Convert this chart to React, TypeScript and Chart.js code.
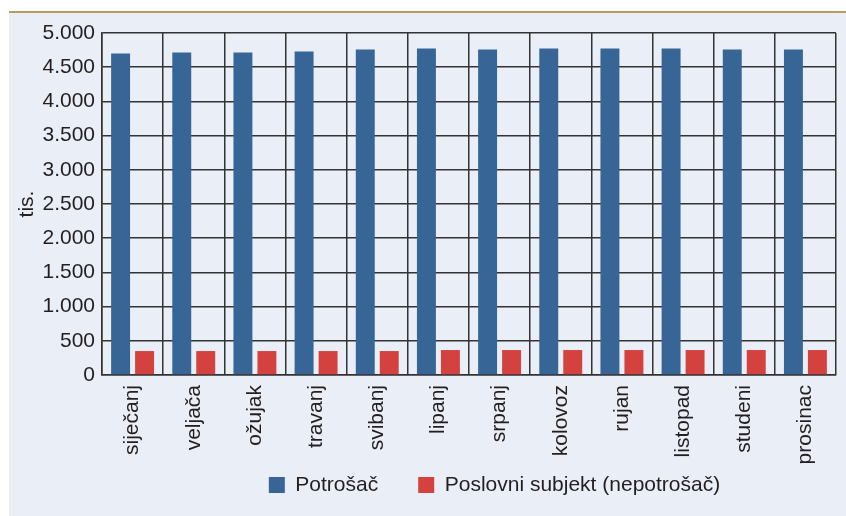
import React, { useEffect, useRef } from "react";
import { Chart, registerables } from "chart.js";

Chart.register(...registerables);

const months = [
  "siječanj",
  "veljača",
  "ožujak",
  "travanj",
  "svibanj",
  "lipanj",
  "srpanj",
  "kolovoz",
  "rujan",
  "listopad",
  "studeni",
  "prosinac",
];

const potrosac = [4700, 4715, 4715, 4730, 4759, 4773, 4759, 4773, 4773, 4773, 4759, 4759];
const poslovniSubjekt = [350, 350, 350, 350, 350, 365, 365, 365, 365, 365, 365, 365];

const seriesLabels = ["Potrošač", "Poslovni subjekt (nepotrošač)"];
const yAxisTitle = "tis.";
const yMin = 0;
const yMax = 5000;
const yStep = 500;

const FONT = "'Liberation Sans', Arial, Helvetica, sans-serif";
const TEXT = "#231f20";
const GRID = "#333333";

function fmt(n: number): string {
  if (n >= 1000) {
    return `${Math.floor(n / 1000)}.${String(n % 1000).padStart(3, "0")}`;
  }
  return String(n);
}

const legendShift = {
  id: "legendShift",
  afterLayout(chart: any) {
    const l = chart.legend;
    if (l) {
      l.left += 72;
      l.right += 72;
      l.top -= 35.5;
      l.bottom -= 35.5;
    }
  },
};

export default function App() {
  const ref = useRef<HTMLCanvasElement | null>(null);

  useEffect(() => {
    document.body.style.margin = "0";
    const canvas = ref.current;
    if (!canvas) return;
    const chart = new Chart(canvas, {
      type: "bar",
      data: {
        labels: months,
        datasets: [
          {
            label: seriesLabels[0],
            data: potrosac,
            backgroundColor: "#376596",
            borderWidth: 0,
            categoryPercentage: 0.784,
            barPercentage: 0.79,
          },
          {
            label: seriesLabels[1],
            data: poslovniSubjekt,
            backgroundColor: "#d4423f",
            borderWidth: 0,
            categoryPercentage: 0.784,
            barPercentage: 0.79,
          },
        ],
      },
      options: {
        responsive: false,
        animation: false,
        devicePixelRatio: 1,
        layout: { padding: { top: 20, right: 10, left: 0, bottom: -25 } },
        plugins: {
          tooltip: { enabled: false },
          legend: {
            position: "bottom",
            labels: {
              boxWidth: 16,
              boxHeight: 16,
              padding: 40,
              color: TEXT,
              font: { family: FONT, size: 21 },
            },
          },
        },
        scales: {
          x: {
            grid: {
              display: true,
              offset: true,
              color: GRID,
              lineWidth: 1.5,
              drawTicks: false,
            },
            border: { display: true, color: GRID, width: 1.5 },
            ticks: {
              minRotation: 90,
              maxRotation: 90,
              autoSkip: false,
              padding: 10,
              color: TEXT,
              font: { family: FONT, size: 21 },
            },
            afterFit(scale: any) {
              scale.height = 95;
            },
          },
          y: {
            min: yMin,
            max: yMax,
            grid: { color: GRID, lineWidth: 1.5, drawTicks: false },
            border: { display: true, color: GRID, width: 1.5 },
            ticks: {
              stepSize: yStep,
              padding: 7,
              color: TEXT,
              font: { family: FONT, size: 21 },
              callback: (v: any) => fmt(Number(v)),
            },
            title: {
              display: true,
              text: yAxisTitle,
              color: TEXT,
              font: { family: FONT, size: 21 },
              padding: { top: 6, bottom: 0 },
            },
            afterFit(scale: any) {
              scale.width = 93;
            },
          },
        },
      },
      plugins: [legendShift],
    });
    return () => chart.destroy();
  }, []);

  return (
    <div style={{ position: "relative", width: 846, height: 516, background: "#ffffff", overflow: "hidden" }}>
      <div style={{ position: "absolute", left: 9, top: 11, width: 837, height: 2, background: "#b89a60" }} />
      <div style={{ position: "absolute", left: 9, top: 13, width: 837, height: 503, background: "#e9eef7" }}>
        <canvas ref={ref} width={837} height={503} style={{ display: "block", width: 837, height: 503 }} />
      </div>
    </div>
  );
}
